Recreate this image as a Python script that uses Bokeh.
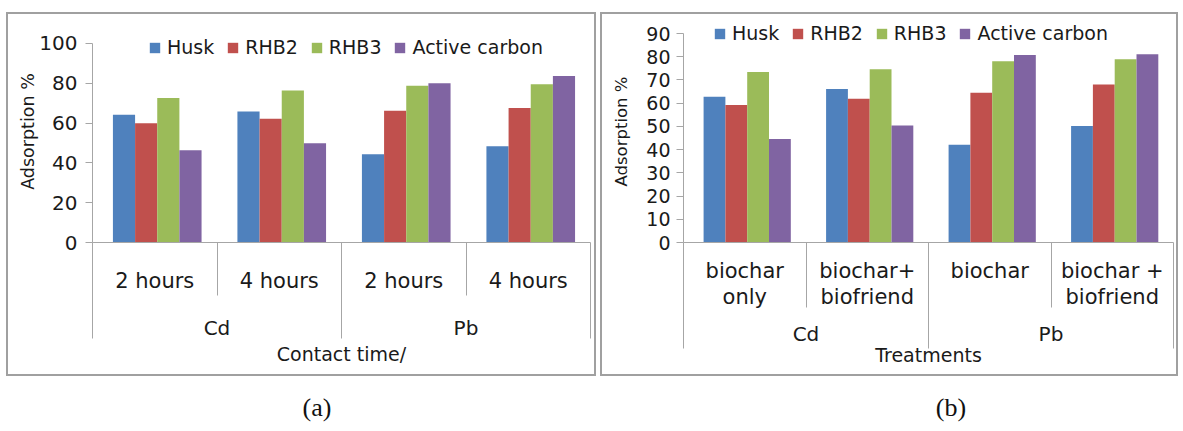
from bokeh.plotting import figure
from bokeh.models import (ColumnDataSource, FactorRange, Range1d, LinearAxis,
                          CategoricalAxis, FixedTicker, CustomJSTickFormatter, Div)
from bokeh.transform import dodge
from bokeh.layouts import row, column
from bokeh.embed import file_html
from bokeh.resources import INLINE

# ---------------- data ----------------
series_names = ["Husk", "RHB2", "RHB3", "Active carbon"]
colors = ["#4F81BD", "#C0504D", "#9BBB59", "#8064A2"]

groups_a = ["Cd", "Cd", "Pb", "Pb"]
subs_a = ["2 hours", "4 hours", "2 hours", "4 hours"]
husk_a = [64.2, 65.8, 44.3, 48.4]
rhb2_a = [59.9, 62.2, 66.2, 67.5]
rhb3_a = [72.6, 76.4, 78.7, 79.5]
ac_a = [46.3, 49.9, 80.0, 83.6]
yticks_a = [0, 20, 40, 60, 80, 100]

groups_b = ["Cd", "Cd", "Pb", "Pb"]
subs_b = ["biochar\nonly", "biochar+\nbiofriend", "biochar", "biochar +\nbiofriend"]
husk_b = [62.8, 66.1, 42.1, 50.2]
rhb2_b = [59.2, 61.9, 64.5, 68.0]
rhb3_b = [73.4, 74.6, 78.1, 78.9]
ac_b = [44.6, 50.4, 80.7, 81.1]
yticks_b = [0, 10, 20, 30, 40, 50, 60, 70, 80, 90]

FONT = "DejaVu Sans"
TXT = "#1a1a1a"
GRAY = "#a6a6a6"


def make_chart(groups, subs, vals, yticks, y_end, xlabel, width, height, mb, tick_fs,
               ylab_fs, legend_loc, cat_standoff, xlab_standoff, sub_len, full_len,
               ylab_standoff, tick_standoff, cat_lh):
    factors = list(zip(groups, subs))
    src = ColumnDataSource(dict(x=factors, s0=vals[0], s1=vals[1], s2=vals[2], s3=vals[3]))
    xr = FactorRange(*factors, group_padding=0, factor_padding=0, range_padding=0)
    p = figure(x_range=xr, y_range=Range1d(yticks[0], y_end),
               width=width, height=height, output_backend="svg",
               toolbar_location=None, x_axis_location=None,
               min_border_left=mb[0], min_border_right=mb[1],
               min_border_top=mb[2], min_border_bottom=mb[3])
    p.title.text = ""
    p.title.text_font_size = "0px"
    p.title.standoff = 0
    p.title.offset = 0
    p.title.visible = False
    p.grid.visible = False
    p.outline_line_color = None
    p.background_fill_color = "white"
    p.border_fill_color = "white"

    bw = 0.178
    for i, (name, col) in enumerate(zip(series_names, colors)):
        off = (i - 1.5) * bw + 0.02
        p.vbar(x=dodge("x", off, range=xr), top="s%d" % i, width=bw, bottom=0,
               source=src, fill_color=col, line_color=None, legend_label=name)

    # y axis
    ya = p.yaxis[0]
    ya.ticker = FixedTicker(ticks=yticks)
    ya.bounds = (yticks[0], yticks[-1])
    ya.axis_line_color = GRAY
    ya.major_tick_line_color = GRAY
    ya.major_tick_out = 7
    ya.major_tick_in = 0
    ya.minor_tick_line_color = None
    ya.major_label_text_font = FONT
    ya.major_label_text_font_size = tick_fs
    ya.major_label_text_color = TXT
    ya.major_label_standoff = tick_standoff
    ya.axis_label = "Adsorption %"
    ya.axis_label_text_font = FONT
    ya.axis_label_text_font_size = ylab_fs
    ya.axis_label_text_font_style = "normal"
    ya.axis_label_text_color = TXT
    ya.axis_label_standoff = ylab_standoff

    blank = CustomJSTickFormatter(code="return ''")
    # table separator lines (category boundaries in synthetic coordinates)
    n = len(factors)
    sub_sep = LinearAxis(ticker=FixedTicker(ticks=[1, 3]),
                         formatter=blank, axis_line_color=None,
                         major_tick_line_color=GRAY, major_tick_out=0,
                         major_tick_in=-sub_len, minor_tick_line_color=None,
                         major_label_text_font_size="0px", major_label_standoff=0)
    full_sep = LinearAxis(ticker=FixedTicker(ticks=[0, 2, n]),
                          formatter=blank, axis_line_color=None,
                          major_tick_line_color=GRAY, major_tick_out=0,
                          major_tick_in=-full_len, minor_tick_line_color=None,
                          major_label_text_font_size="0px", major_label_standoff=0)
    p.add_layout(sub_sep, "below")
    p.add_layout(full_sep, "below")

    xa = CategoricalAxis(axis_label=xlabel)
    xa.axis_line_color = GRAY
    xa.major_tick_line_color = None
    xa.separator_line_color = None
    xa.major_label_text_font = FONT
    xa.major_label_text_font_size = "21px"
    xa.major_label_text_color = TXT
    xa.major_label_text_line_height = cat_lh
    xa.major_label_standoff = cat_standoff
    xa.group_text_font = FONT
    xa.group_text_font_size = "20px"
    xa.group_text_font_style = "normal"
    xa.group_text_color = TXT
    xa.axis_label_text_font = FONT
    xa.axis_label_text_font_size = "19px"
    xa.axis_label_text_font_style = "normal"
    xa.axis_label_text_color = TXT
    xa.axis_label_standoff = xlab_standoff
    p.add_layout(xa, "below")

    lg = p.legend[0]
    lg.orientation = "horizontal"
    lg.location = legend_loc
    lg.padding = 0
    lg.margin = 0
    lg.border_line_color = None
    lg.background_fill_alpha = 0
    lg.label_text_font = FONT
    lg.label_text_font_size = "19px"
    lg.label_text_color = TXT
    lg.glyph_width = 13
    lg.glyph_height = 13
    lg.label_standoff = 6
    lg.spacing = 12
    p.styles = {"border": "2px solid #a0a0a0", "box-sizing": "border-box"}
    return p


# plot frames in a row share top/bottom; y ranges place 100 / 90 at the reference heights
p1 = make_chart(groups_a, subs_a, [husk_a, rhb2_a, rhb3_a, ac_a], yticks_a, 111.5,
                "Contact time/", 590, 364, (84, 8, 6, 136), "20px", "17.5px",
                (56, 184), 20, 0, 53, 96, -2, 8, 1.2)
p2 = make_chart(groups_b, subs_b, [husk_b, rhb2_b, rhb3_b, ac_b], yticks_b, 95.6,
                "Treatments", 578, 364, (81, 7, 6, 136), "19px", "16.5px",
                (30, 198), 10, -5, 65, 106, 12, 6, 1.1)
p1.margin = (12, 0, 0, 6)
p2.margin = (12, 0, 0, 4)

cap_style = {"font-family": "Liberation Serif", "font-size": "26px",
             "text-align": "center", "line-height": "24px", "color": "#111"}
cap_a = Div(text="(a)", width=60, height=24, styles=cap_style, margin=(20, 0, 0, 287))
cap_b = Div(text="(b)", width=60, height=24, styles=cap_style, margin=(20, 0, 0, 574))

layout = column(row(p1, p2), row(cap_a, cap_b))
open("out.html", "w").write(file_html(layout, INLINE))
